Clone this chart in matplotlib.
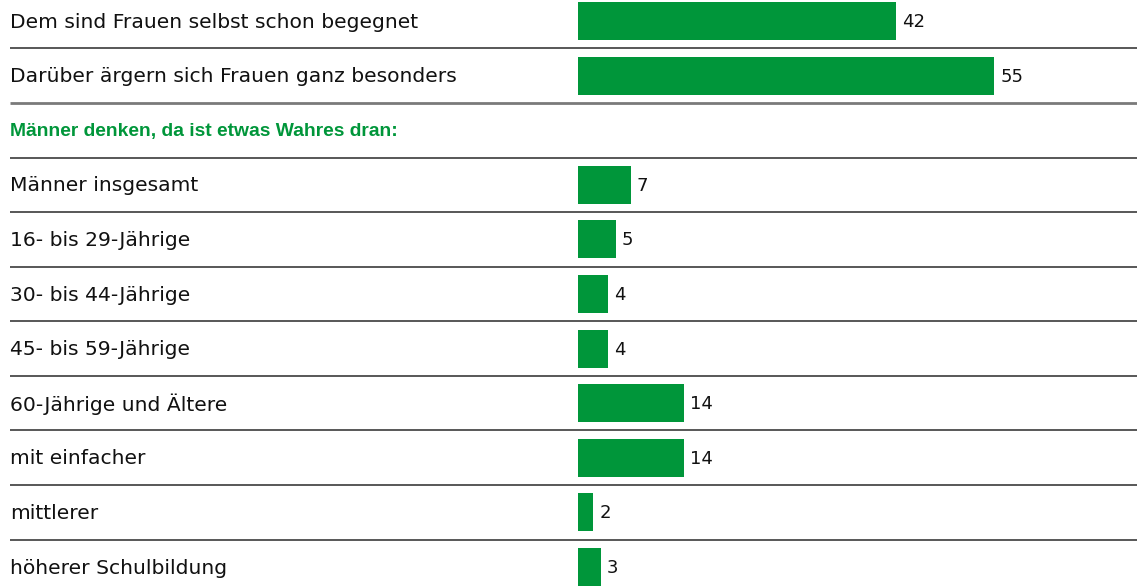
import matplotlib
matplotlib.use("Agg")
import matplotlib.pyplot as plt
from matplotlib.transforms import blended_transform_factory

plt.rcParams['font.family'] = ['DejaVu Sans']

labels = [
    "Dem sind Frauen selbst schon begegnet",
    "Darüber ärgern sich Frauen ganz besonders",
    "Männer denken, da ist etwas Wahres dran:",
    "Männer insgesamt",
    "16- bis 29-Jährige",
    "30- bis 44-Jährige",
    "45- bis 59-Jährige",
    "60-Jährige und Ältere",
    "mit einfacher",
    "mittlerer",
    "höherer Schulbildung",
]
values = [42, 55, None, 7, 5, 4, 4, 14, 14, 2, 3]
header_rows = [2]

GREEN = "#00963A"
W, H, DPI = 1137, 587, 100

fig = plt.figure(figsize=(W / DPI, H / DPI), dpi=DPI)
ax = fig.add_axes([0, 0, 1, 1])
ax.set_axis_off()

px_per_unit = 7.57
x0_px = 578
ax.set_xlim(-x0_px / px_per_unit, (W - x0_px) / px_per_unit)
row_px = 54.6
top_center = 21
ax.set_ylim(10 + (H - 21 - 10 * row_px) / row_px, -top_center / row_px)

n = len(labels)
trans = blended_transform_factory(ax.transAxes, ax.transData)
left = 10 / W

for i, (lab, v) in enumerate(zip(labels, values)):
    if i in header_rows:
        ax.text(left, i + 0.02, lab, transform=trans, va="center", ha="left",
                fontsize=13.9, color=GREEN, fontweight="bold",
                family=["Liberation Sans", "DejaVu Sans"])
    else:
        ax.text(left, i + 0.02, lab, transform=trans, va="center", ha="left",
                fontsize=14.6, color="#111111")
    if v is not None:
        ax.barh(i, v, height=38 / row_px, left=0, color=GREEN)
        ax.text(v + 6 / px_per_unit, i + 0.02, str(v), va="center", ha="left",
                fontsize=13, color="#111111")

# separators between rows
for i in range(n - 1):
    y = i + 0.5
    if i == 1:
        ax.plot([left, 1], [y, y], transform=trans, color="#7a7a7a", lw=2.0,
                solid_capstyle="butt")
    else:
        ax.plot([left, 1], [y, y], transform=trans, color="#2a2a2a", lw=1.1,
                solid_capstyle="butt")

fig.savefig("out.png", dpi=DPI)
